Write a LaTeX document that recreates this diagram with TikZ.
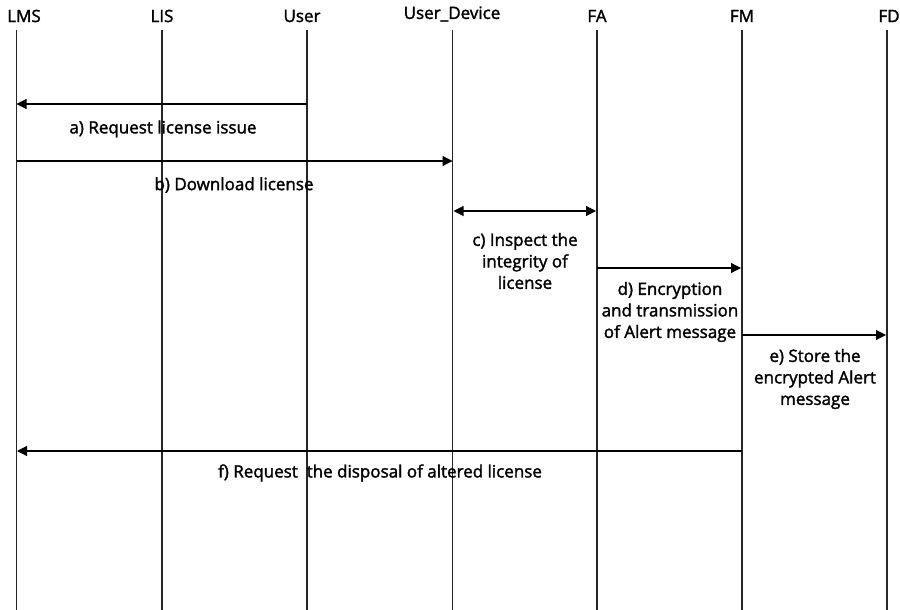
\documentclass[tikz,border=0pt]{standalone}
\usepackage{fontspec}
\setmainfont{Open Sans}[BoldFont={Open Sans},BoldFeatures={FakeBold=1.8}]
\usetikzlibrary{arrows.meta}
\begin{document}
\begin{tikzpicture}[x=1pt,y=-1pt,
  hdr/.style={inner sep=0pt,font=\fontsize{17}{18}\selectfont\bfseries},
  lbl/.style={inner sep=0pt,align=center,font=\fontsize{17}{21.5}\selectfont\bfseries},
  life/.style={line width=1.3pt,black!85},
  msg/.style={line width=1.1pt,-{Triangle[length=10pt,width=10pt]}},
  dmsg/.style={line width=1.1pt,{Triangle[length=10pt,width=10pt]}-{Triangle[length=10pt,width=10pt]}}]
\useasboundingbox (0,0) rectangle (900,610);
% headers
\node[hdr] (LMS) at (24,16) {LMS};
\node[hdr] (LIS) at (162,16) {LIS};
\node[hdr] (User) at (302,16) {User};
\node[hdr] (UD) at (452,14) {User\_Device};
\node[hdr] (FA) at (597,16) {FA};
\node[hdr] (FM) at (742,16) {FM};
\node[hdr] (FD) at (889,16) {FD};
% lifelines
\foreach \n/\x in {LMS/16.5,LIS/162,User/307,UD/452.5,FA/597,FM/742,FD/887}{
  \coordinate (\n t) at (\x,30);
  \coordinate (\n b) at (\x,610);
  \draw[life] (\n t) -- (\n b);
}
% message end points
\coordinate (a1) at (307,104); \coordinate (a2) at (16.5,104);
\coordinate (b1) at (17,161); \coordinate (b2) at (452.5,161);
\coordinate (c1) at (453.5,211); \coordinate (c2) at (596,211);
\coordinate (d1) at (597,268); \coordinate (d2) at (741,268);
\coordinate (e1) at (742,335); \coordinate (e2) at (886,335);
\coordinate (f1) at (742,451); \coordinate (f2) at (17,451);
\draw[msg] (a1) -- (a2);
\draw[msg] (b1) -- (b2);
\draw[dmsg] (c1) -- (c2);
\draw[msg] (d1) -- (d2);
\draw[msg] (e1) -- (e2);
\draw[msg] (f1) -- (f2);
% labels
\node[lbl] (la) at (163,129) {a) Request license issue};
\node[lbl] (lb) at (234,185) {b) Download license};
\node[lbl] (lc) at (525,261) {c) Inspect the\\integrity of\\license};
\node[lbl] (ld) at (670,312) {d) Encryption\\and transmission\\of Alert message};
\node[lbl] (le) at (815,379) {e) Store the\\encrypted Alert\\message};
\node[lbl] (lf) at (380,473) {f) Request\ \ the disposal of altered license};
\end{tikzpicture}
\end{document}
